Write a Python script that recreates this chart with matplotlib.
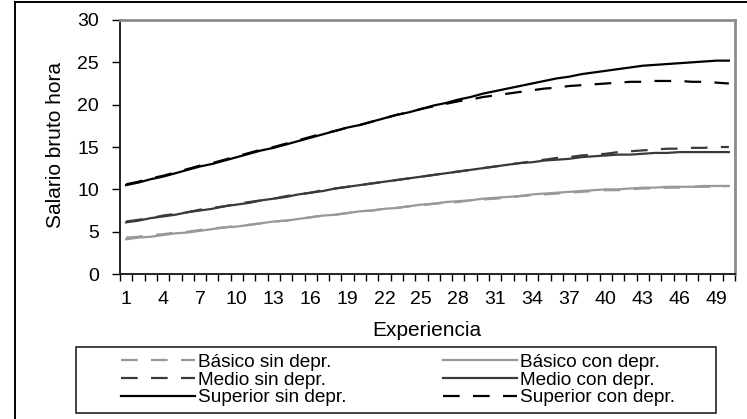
import numpy as np
import matplotlib
matplotlib.use("Agg")
import matplotlib.pyplot as plt
from matplotlib.lines import Line2D
from matplotlib.patches import Rectangle

plt.rcParams['font.family'] = ['Liberation Sans', 'DejaVu Sans']

experiencia = list(range(1, 51))

basico_sin = [4.3, 4.4, 4.6, 4.7, 4.9, 5.0, 5.2, 5.4, 5.5, 5.7,
              5.8, 6.0, 6.2, 6.3, 6.5, 6.7, 6.9, 7.0, 7.2, 7.4,
              7.5, 7.7, 7.8, 8.0, 8.1, 8.3, 8.4, 8.5, 8.7, 8.8,
              8.9, 9.0, 9.2, 9.3, 9.4, 9.5, 9.6, 9.7, 9.8, 9.9,
              9.9, 10.0, 10.1, 10.1, 10.2, 10.2, 10.3, 10.3, 10.3, 10.4]
basico_con = [4.1, 4.3, 4.4, 4.6, 4.8, 4.9, 5.1, 5.3, 5.5, 5.6,
              5.8, 6.0, 6.2, 6.3, 6.5, 6.7, 6.9, 7.0, 7.2, 7.4,
              7.5, 7.7, 7.8, 8.0, 8.2, 8.3, 8.5, 8.6, 8.7, 8.9,
              9.0, 9.1, 9.2, 9.4, 9.5, 9.6, 9.7, 9.8, 9.9, 10.0,
              10.0, 10.1, 10.2, 10.2, 10.3, 10.3, 10.3, 10.4, 10.4, 10.4]
medio_sin = [6.2, 6.4, 6.6, 6.9, 7.1, 7.3, 7.6, 7.8, 8.0, 8.3,
             8.5, 8.7, 8.9, 9.2, 9.4, 9.6, 9.9, 10.1, 10.3, 10.5,
             10.7, 10.9, 11.1, 11.3, 11.5, 11.7, 11.9, 12.1, 12.3, 12.5,
             12.7, 12.9, 13.1, 13.3, 13.5, 13.7, 13.8, 14.0, 14.1, 14.2,
             14.4, 14.5, 14.6, 14.7, 14.8, 14.8, 14.9, 14.9, 15.0, 15.0]
medio_con = [6.1, 6.3, 6.6, 6.8, 7.0, 7.3, 7.5, 7.7, 8.0, 8.2,
             8.4, 8.7, 8.9, 9.1, 9.4, 9.6, 9.8, 10.1, 10.3, 10.5,
             10.7, 10.9, 11.1, 11.3, 11.5, 11.7, 11.9, 12.1, 12.3, 12.5,
             12.7, 12.9, 13.1, 13.2, 13.4, 13.5, 13.6, 13.8, 13.9, 14.0,
             14.1, 14.1, 14.2, 14.3, 14.3, 14.4, 14.4, 14.4, 14.4, 14.4]
superior_sin = [10.5, 10.8, 11.2, 11.5, 11.9, 12.3, 12.7, 13.0, 13.4, 13.8,
                14.2, 14.6, 14.9, 15.3, 15.7, 16.1, 16.5, 16.9, 17.3, 17.6,
                18.0, 18.4, 18.8, 19.1, 19.5, 19.9, 20.2, 20.6, 20.9, 21.3,
                21.6, 21.9, 22.2, 22.5, 22.8, 23.1, 23.3, 23.6, 23.8, 24.0,
                24.2, 24.4, 24.6, 24.7, 24.8, 24.9, 25.0, 25.1, 25.2, 25.2]
superior_con = [10.6, 10.9, 11.3, 11.6, 12.0, 12.4, 12.8, 13.1, 13.5, 13.9,
                14.3, 14.7, 15.0, 15.4, 15.8, 16.2, 16.6, 16.9, 17.3, 17.6,
                18.0, 18.4, 18.8, 19.1, 19.5, 19.8, 20.1, 20.4, 20.6, 20.9,
                21.1, 21.3, 21.5, 21.7, 21.9, 22.0, 22.2, 22.3, 22.4, 22.5,
                22.6, 22.7, 22.7, 22.8, 22.8, 22.8, 22.7, 22.7, 22.6, 22.5]

etiquetas = ["Básico sin depr.", "Medio sin depr.", "Superior sin depr.",
             "Básico con depr.", "Medio con depr.", "Superior con depr."]

W, H = 747, 419
fig = plt.figure(figsize=(W / 100, H / 100), dpi=100)

# outer chart frame (top and left edges)
fig.add_artist(Line2D([15 / W, 1.0], [1 - 2.5 / H, 1 - 2.5 / H], color='black', lw=1.4,
                      transform=fig.transFigure))
fig.add_artist(Line2D([15 / W, 15 / W], [0.0, 1 - 2.5 / H], color='black', lw=1.4,
                      transform=fig.transFigure))

ax = fig.add_axes([120 / W, 1 - 274 / H, 615 / W, 254 / H])

gris = '#999999'
oscuro = '#3a3a3a'
negro = '#000000'
lw = 1.6
dash = (0, (7.5, 6))

series = [
    (basico_sin, gris, dash),
    (medio_sin, oscuro, dash),
    (superior_sin, negro, '-'),
    (basico_con, gris, '-'),
    (medio_con, oscuro, '-'),
    (superior_con, negro, dash),
]
handles = []
for vals, col, ls in series:
    h, = ax.plot(experiencia, vals, color=col, ls=ls, lw=lw)
    handles.append(h)

ax.set_xlim(0.5, 50.5)
ax.set_ylim(0, 30)
ax.set_yticks(range(0, 31, 5))
ax.set_xticks(np.arange(0.5, 51, 1))
ax.set_xticklabels([])
ax.set_xticks(experiencia[::3], minor=True)
ax.set_xticklabels([str(v) for v in experiencia[::3]], minor=True)

ax.tick_params(axis='x', which='major', direction='out', length=5, width=1, color='black')
ax.tick_params(axis='x', which='minor', length=0, pad=12, labelsize=14)
ax.tick_params(axis='y', direction='out', length=6, width=1, pad=9, labelsize=14)

for s in ['top', 'right']:
    ax.spines[s].set_color('#8c8c8c')
    ax.spines[s].set_linewidth(2)
for s in ['left', 'bottom']:
    ax.spines[s].set_color('#222222')
    ax.spines[s].set_linewidth(1.4)

fig.text(56 / W, 1 - 145 / H, "Salario bruto hora", rotation=90, ha='center', va='center',
         fontsize=15)
fig.text(427 / W, 1 - 330 / H, "Experiencia", ha='center', va='center', fontsize=15)

# legend frame
fig.add_artist(Rectangle((76 / W, 1 - 413 / H), 640 / W, 66 / H, transform=fig.transFigure,
                         facecolor='white', edgecolor='#222222', lw=1.2))
leg = fig.legend(handles, etiquetas, ncol=2, mode='expand', frameon=False,
                 bbox_to_anchor=(121 / W, 1 - 411 / H, 554 / W, 62 / H),
                 loc='center', borderaxespad=0, borderpad=0, fontsize=13.7,
                 handlelength=3.9, handletextpad=0.15, labelspacing=0.02)

fig.savefig("out.png", dpi=100)
